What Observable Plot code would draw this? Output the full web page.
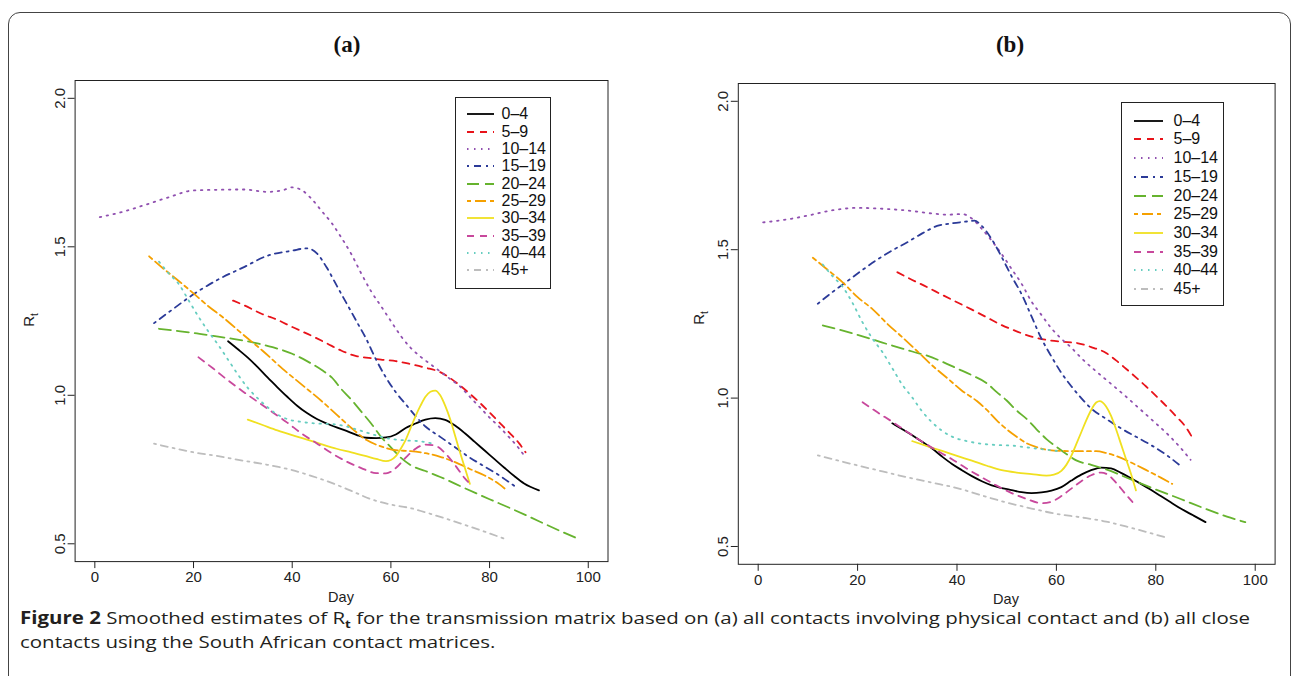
<!DOCTYPE html>
<html><head><meta charset="utf-8">
<script src="https://cdn.jsdelivr.net/npm/d3@7"></script>
<script src="https://cdn.jsdelivr.net/npm/@observablehq/plot@0.6"></script>
<style>
body{margin:0;background:#fff;}
#page{position:relative;width:1293px;height:676px;overflow:hidden;font-family:"Liberation Sans",Arial,sans-serif;color:#222;background:#fff;}
.abs{position:absolute;}
.title{font-family:"Liberation Serif",serif;font-weight:bold;font-size:23px;color:#111;transform:translate(-50%,-50%);white-space:nowrap;}
.axlab{font-size:14.5px;line-height:14px;color:#222;white-space:nowrap;transform:translate(-50%,-50%);}
.ylab{font-size:15px;line-height:15px;color:#222;white-space:nowrap;transform:translate(-50%,-50%) rotate(-90deg);}
.ylab sub{font-size:10px;}
.leg{border:1px solid #222;background:#fff;box-sizing:border-box;}
.legtxt{font-size:16px;line-height:18px;white-space:nowrap;color:#111;}
.cap{font-family:"Open Sans","Noto Sans",sans-serif;font-size:17px;line-height:17px;color:#231f20;white-space:nowrap;transform-origin:0 0;}
.cap sub{font-size:11px;line-height:0;}
#frame{border:1.5px solid #444;border-radius:12px;}
</style></head><body><div id="page"></div>
<script>
// ---------- categories & styles ----------
const groups = ["0–4","5–9","10–14","15–19","20–24","25–29","30–34","35–39","40–44","45+"];
const colors = ["#000000","#e8131a","#9050b0","#2b3a98","#66b32e","#f5a000","#f0e020","#c8489c","#66cdc0","#bdbdbd"];
const dashes = [null,"7,6","1.5,5.5","2,5,7,5","12,6","4,4,11,4",null,"7,6","1.5,5.5","2,5,7,5"];
const dayTicks = [0,20,40,60,80,100];
const rtTicks = [0.5,1.0,1.5,2.0];
const panelTitles = ["(a)","(b)"];

// ---------- panel (a): [day, Rt] ----------
const a_0_4 = [[27,1.182],[29,1.155],[31,1.127],[33,1.095],[35,1.06],[37,1.027],[39,0.995],[41,0.965],[43,0.94],[45,0.92],[47,0.905],[49,0.892],[51,0.88],[53,0.867],[55,0.857],[57,0.856],[59,0.858],[61,0.868],[63,0.89],[65,0.905],[67,0.918],[69,0.923],[71,0.917],[73,0.898],[75,0.872],[77,0.843],[79,0.814],[81,0.785],[83,0.756],[85,0.728],[87,0.703],[90,0.68]];
const a_5_9 = [[28,1.319],[30,1.305],[34,1.273],[37,1.254],[40,1.23],[44,1.20],[47,1.175],[50,1.15],[53,1.132],[56,1.125],[58,1.12],[61,1.115],[64,1.105],[67,1.093],[70,1.078],[72,1.058],[74,1.033],[76,1.005],[78,0.975],[80,0.942],[82,0.908],[84,0.874],[86,0.838],[87.3,0.808]];
const a_10_14 = [[1,1.60],[5,1.615],[10,1.64],[15,1.667],[20,1.69],[25,1.692],[30,1.693],[35,1.685],[38,1.69],[40,1.70],[42,1.69],[44,1.66],[46,1.62],[48,1.58],[50,1.53],[52,1.475],[54,1.41],[56,1.35],[58,1.30],[60,1.25],[62,1.20],[64,1.16],[66,1.13],[68,1.105],[70,1.08],[72,1.055],[74,1.03],[76,0.995],[78,0.96],[80,0.925],[82,0.893],[84,0.858],[86,0.82],[87,0.797]];
const a_15_19 = [[12,1.243],[15,1.28],[20,1.34],[25,1.39],[30,1.43],[35,1.47],[40,1.487],[43,1.495],[45,1.478],[47,1.43],[49,1.37],[51,1.31],[53,1.25],[55,1.19],[57,1.12],[59,1.06],[61,1.01],[63,0.97],[65,0.93],[67,0.895],[70,0.86],[73,0.825],[76,0.79],[79,0.76],[82,0.73],[85,0.695]];
const a_20_24 = [[13,1.224],[16,1.218],[20,1.21],[24,1.20],[28,1.19],[32,1.178],[36,1.162],[40,1.14],[43,1.115],[46,1.085],[48,1.06],[50,1.02],[52,0.985],[54,0.945],[56,0.905],[58,0.86],[60,0.825],[62,0.79],[64,0.765],[67,0.745],[70,0.725],[75,0.687],[80,0.65],[85,0.614],[90,0.576],[95,0.538],[97.5,0.52]];
const a_25_29 = [[11,1.468],[14,1.425],[17,1.385],[20,1.343],[23,1.30],[26,1.262],[30,1.205],[34,1.15],[38,1.09],[42,1.035],[46,0.98],[49,0.935],[52,0.89],[55,0.85],[58,0.828],[61,0.815],[64,0.812],[67,0.805],[70,0.793],[73,0.775],[76,0.752],[79,0.73],[82,0.70],[83.5,0.68]];
const a_30_34 = [[31,0.918],[34,0.90],[37,0.882],[40,0.866],[43,0.851],[46,0.835],[49,0.82],[52,0.808],[55,0.795],[57,0.786],[59,0.778],[60,0.782],[61,0.795],[62,0.82],[63,0.85],[64,0.89],[65,0.93],[66,0.965],[67,0.995],[68,1.012],[69,1.016],[70,1.0],[71,0.965],[72,0.92],[73,0.865],[74,0.808],[75,0.755],[76,0.702]];
const a_35_39 = [[21,1.128],[24,1.09],[27,1.05],[30,1.013],[33,0.978],[36,0.943],[39,0.908],[42,0.87],[45,0.838],[48,0.805],[51,0.777],[54,0.755],[57,0.738],[59,0.737],[61,0.755],[63,0.79],[65,0.82],[67,0.834],[69,0.83],[71,0.805],[73,0.765],[75,0.72],[76,0.702]];
const a_40_44 = [[13,1.45],[15,1.41],[17,1.375],[19,1.32],[21,1.265],[23,1.215],[25,1.17],[27,1.12],[29,1.07],[31,1.025],[33,0.99],[35,0.96],[37,0.935],[39,0.92],[42,0.91],[45,0.905],[48,0.903],[51,0.895],[54,0.88],[57,0.865],[60,0.853],[63,0.848],[66,0.845],[69,0.835]];
const a_45p = [[12,0.837],[16,0.822],[20,0.808],[25,0.795],[30,0.78],[35,0.766],[40,0.748],[44,0.728],[48,0.705],[52,0.678],[56,0.65],[60,0.632],[64,0.62],[68,0.601],[72,0.58],[76,0.558],[80,0.535],[83,0.517]];

// ---------- panel (b): [day, Rt] ----------
const b_0_4 = [[27,0.915],[29,0.895],[31,0.875],[33,0.853],[35,0.83],[37,0.803],[39,0.778],[41,0.757],[43,0.737],[45,0.72],[47,0.706],[49,0.697],[51,0.69],[53,0.683],[55,0.68],[57,0.682],[59,0.688],[61,0.70],[63,0.722],[65,0.742],[67,0.757],[69,0.766],[71,0.763],[73,0.748],[75,0.73],[77,0.711],[79,0.691],[81,0.67],[83,0.649],[85,0.628],[87.5,0.605],[90,0.582]];
const b_5_9 = [[28,1.424],[31,1.398],[34,1.374],[37,1.348],[40,1.323],[43,1.298],[46,1.272],[49,1.246],[52,1.225],[55,1.207],[58,1.196],[61,1.19],[64,1.186],[67,1.172],[70,1.152],[72,1.127],[74,1.099],[76,1.07],[78,1.04],[80,1.008],[82,0.975],[84,0.94],[86,0.903],[87.3,0.868]];
const b_10_14 = [[1,1.592],[5,1.60],[10,1.615],[15,1.633],[20,1.641],[25,1.638],[30,1.632],[35,1.622],[38,1.618],[41,1.62],[43,1.605],[45,1.57],[47,1.53],[49,1.485],[51,1.435],[53,1.385],[55,1.325],[57,1.28],[59,1.235],[61,1.20],[63,1.17],[65,1.135],[68,1.09],[71,1.048],[74,1.005],[77,0.96],[80,0.915],[83,0.868],[85,0.832],[87,0.792]];
const b_15_19 = [[12,1.318],[15,1.358],[18,1.395],[21,1.432],[24,1.467],[27,1.498],[30,1.525],[33,1.555],[36,1.58],[39,1.589],[42,1.595],[43.5,1.598],[45,1.58],[47,1.535],[49,1.475],[51,1.41],[53,1.35],[55,1.275],[57,1.20],[59,1.14],[61,1.085],[63,1.04],[65,1.0],[67,0.965],[70,0.93],[73,0.898],[76,0.87],[79,0.842],[82,0.81],[85.3,0.767]];
const b_20_24 = [[13,1.245],[16,1.232],[19,1.218],[22,1.203],[25,1.187],[28,1.172],[31,1.157],[34,1.143],[37,1.123],[40,1.10],[43,1.077],[46,1.05],[48,1.02],[50,0.992],[52,0.958],[54,0.93],[56,0.895],[58,0.862],[60,0.836],[62,0.812],[64,0.79],[67,0.775],[70,0.76],[75,0.726],[80,0.692],[85,0.66],[90,0.627],[95,0.597],[98,0.582]];
const b_25_29 = [[11,1.473],[14,1.432],[17,1.39],[20,1.34],[23,1.30],[26,1.25],[29,1.205],[32,1.158],[35,1.11],[38,1.068],[41,1.025],[44,0.99],[46,0.96],[48,0.925],[50,0.895],[52,0.87],[54,0.848],[56,0.835],[58,0.826],[61,0.822],[65,0.821],[68,0.821],[70,0.815],[72,0.805],[75,0.783],[78,0.758],[81,0.732],[83.3,0.711]];
const b_30_34 = [[31,0.855],[34,0.838],[37,0.822],[40,0.805],[43,0.789],[46,0.772],[49,0.757],[52,0.749],[55,0.744],[58,0.739],[59.5,0.742],[61,0.755],[62,0.775],[63,0.805],[64,0.845],[65,0.885],[66,0.925],[67,0.96],[68,0.985],[68.7,0.99],[70,0.972],[71,0.94],[72,0.895],[73,0.845],[74,0.795],[75,0.745],[76,0.689]];
const b_35_39 = [[21,0.986],[24,0.952],[27,0.92],[30,0.886],[33,0.853],[36,0.823],[39,0.794],[42,0.762],[45,0.733],[48,0.705],[51,0.68],[54,0.66],[57,0.646],[59,0.651],[61,0.67],[63,0.695],[65,0.72],[67,0.74],[69,0.749],[70.5,0.74],[72,0.715],[74,0.675],[75.3,0.65]];
const b_40_44 = [[13,1.45],[15,1.41],[17,1.375],[19,1.32],[21,1.255],[23,1.20],[25,1.155],[27,1.10],[29,1.045],[31,1.002],[33,0.955],[35,0.918],[37,0.89],[39,0.87],[42,0.855],[45,0.846],[48,0.842],[51,0.84],[54,0.834],[57,0.828],[61,0.82]];
const b_45p = [[12,0.807],[16,0.79],[20,0.773],[25,0.753],[30,0.733],[35,0.715],[40,0.697],[45,0.672],[50,0.648],[55,0.628],[60,0.61],[65,0.598],[70,0.584],[75,0.563],[80,0.54],[82.5,0.528]];

const seriesA = [a_0_4,a_5_9,a_10_14,a_15_19,a_20_24,a_25_29,a_30_34,a_35_39,a_40_44,a_45p];
const seriesB = [b_0_4,b_5_9,b_10_14,b_15_19,b_20_24,b_25_29,b_30_34,b_35_39,b_40_44,b_45p];

// ---------- drawing ----------
const page = document.getElementById("page");
function add(html){ const t=document.createElement("template"); t.innerHTML=html.trim(); const el=t.content.firstChild; page.appendChild(el); return el; }

add(`<div id="frame" class="abs" style="left:8px;top:12px;width:1281px;height:720px;"></div>`);

function panel(series, L){
  const rows = series.flatMap((s,i)=>s.map(([day,rt])=>({group:groups[i],day,rt})));
  const marks = groups.map((g,i)=>Plot.line(rows.filter(r=>r.group===g),{
    x:"day", y:"rt", stroke:"group", strokeWidth:1.8,
    strokeDasharray: dashes[i] || undefined, curve:"monotone-x"}));
  const svg = Plot.plot({
    width:L.width, height:L.height,
    marginLeft:L.mL, marginRight:L.mR, marginTop:L.mT, marginBottom:L.mB,
    x:{domain:[-4,104]}, y:{domain:[0.44,2.06]},
    color:{domain:groups, range:colors},
    style:{fontFamily:"Liberation Sans, Arial, sans-serif", fontSize:"15px", color:"#222", background:"transparent", overflow:"visible"},
    marks:[
      ...marks,
      Plot.frame({stroke:"#222", strokeWidth:1}),
      Plot.axisX({ticks:dayTicks, tickSize:7, tickPadding:3, fontSize:15, label:null, stroke:"#222"}),
      Plot.axisY({ticks:rtTicks, tickSize:7, tickRotate:-90, tickFormat:d3.format(".1f"), fontSize:15, label:null, stroke:"#222"})
    ]
  });
  svg.style.position="absolute"; svg.style.left=L.left+"px"; svg.style.top="0px";
  page.appendChild(svg);
  add(`<div class="abs title" style="left:${L.titleX}px;top:45px;">${L.title}</div>`);
  add(`<div class="abs axlab" style="left:${L.dayX}px;top:${L.dayY}px;">Day</div>`);
  add(`<div class="abs ylab" style="left:${L.rtX}px;top:${L.rtY}px;">R<sub>t</sub></div>`);
  const lg = L.leg;
  add(`<div class="abs leg" style="left:${lg.x0}px;top:${lg.y0}px;width:${lg.x1-lg.x0}px;height:${lg.y1-lg.y0}px;"></div>`);
  groups.forEach((g,i)=>{
    const cy = lg.row0 + lg.step*i;
    const da = dashes[i] ? `stroke-dasharray="${dashes[i]}"` : "";
    add(`<svg class="abs" style="left:${lg.l0}px;top:${cy-5}px;" width="${lg.l1-lg.l0}" height="10"><line x1="0" y1="5" x2="${lg.l1-lg.l0}" y2="5" stroke="${colors[i]}" stroke-width="1.8" ${da}/></svg>`);
    add(`<div class="abs legtxt" style="left:${lg.tx}px;top:${cy-9}px;">${g}</div>`);
  });
}

panel(seriesA, {left:0, width:650, height:620, mL:74.6, mR:42.5, mT:80, mB:58.9,
  title:panelTitles[0], titleX:347, dayX:341, dayY:597, rtX:31, rtY:320,
  leg:{x0:455, y0:97, x1:551, y1:289, row0:114.3, step:17.35, l0:467, l1:494, tx:501.5}});
panel(seriesB, {left:660, width:630, height:620, mL:77.8, mR:15.4, mT:83, mB:56.2,
  title:panelTitles[1], titleX:1010, dayX:1006, dayY:599, rtX:701, rtY:318,
  leg:{x0:1120.5, y0:101.5, x1:1223.5, y1:306, row0:120.7, step:18.7, l0:1134, l1:1163, tx:1173.5}});

// caption
const c1 = add(`<div class="abs cap" style="left:20px;top:609px;"><b>Figure 2</b> Smoothed estimates of R<sub><b>t</b></sub> for the transmission matrix based on (a) all contacts involving physical contact and (b) all close</div>`);
const c2 = add(`<div class="abs cap" style="left:20px;top:633px;">contacts using the South African contact matrices.</div>`);
const w1 = c1.getBoundingClientRect().width;
const sx = 1230 / w1;
c1.style.transform = `scaleX(${sx})`;
c2.style.transform = `scaleX(${sx})`;
</script>
</body></html>
